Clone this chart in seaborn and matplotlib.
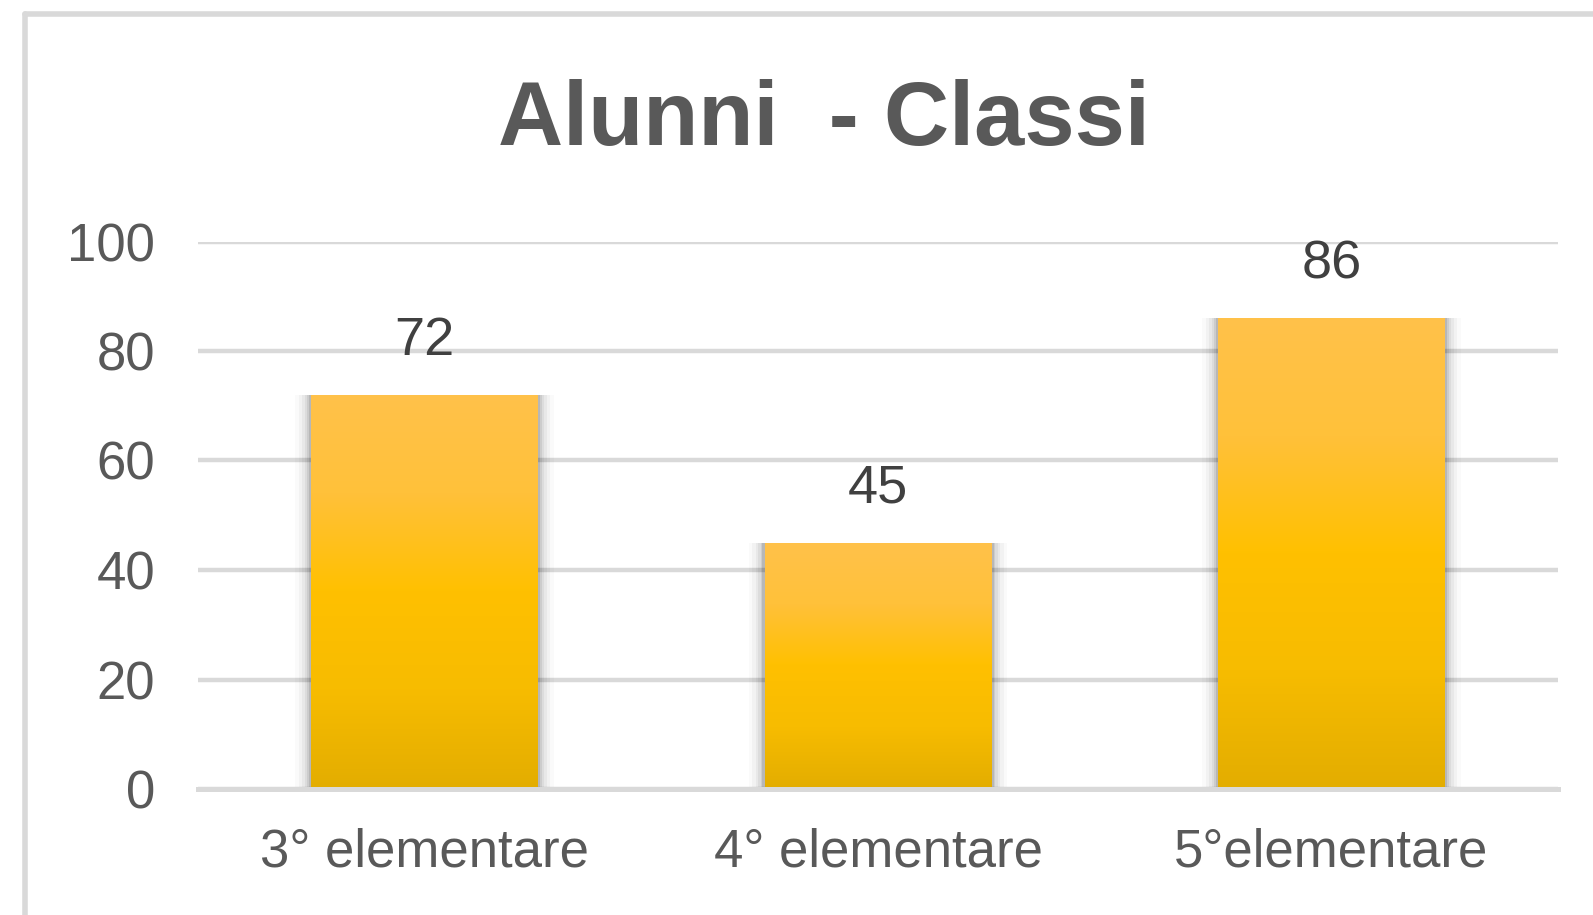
import matplotlib
matplotlib.use("Agg")
import matplotlib.pyplot as plt
import seaborn as sns
import numpy as np
import pandas as pd
from matplotlib.colors import LinearSegmentedColormap
from matplotlib.lines import Line2D
from matplotlib.patches import Rectangle

categories = ["3° elementare", "4° elementare", "5°elementare"]
values = [72, 45, 86]
yticks = [0, 20, 40, 60, 80, 100]
title = "Alunni  - Classi"

sns.set_theme(style="white")
plt.rcParams["font.family"] = ["Liberation Sans", "DejaVu Sans"]

df = pd.DataFrame({"cat": categories, "val": values})

fig = plt.figure(figsize=(15.93, 9.15), dpi=100)
ax = fig.add_axes([198 / 1593, 126 / 915, 1360 / 1593, 547.5 / 915])

sns.barplot(data=df, x="cat", y="val", ax=ax, color="#FFC000", width=0.5,
            saturation=1, zorder=3, linewidth=0)

ax.set_ylim(0, 100)
ax.set_xlim(-0.5, len(categories) - 0.5)

cmap = LinearSegmentedColormap.from_list(
    "g", ["#E3AD00", "#F7BC00", "#FFC000", "#FFC13A", "#FFC24A"])
grad = np.linspace(0, 1, 256).reshape(-1, 1)

for p in list(ax.patches):
    x0, w, h = p.get_x(), p.get_width(), p.get_height()
    # soft shadow on the sides
    for k, a in zip([0.07, 0.055, 0.04, 0.028, 0.018, 0.01],
                    [0.02, 0.03, 0.04, 0.05, 0.07, 0.10]):
        ax.add_patch(Rectangle((x0 - k * 0.5, 0), w + k, h, color="#000000",
                               alpha=a, lw=0, zorder=2.5))
    im = ax.imshow(grad, extent=[x0, x0 + w, 0, h], origin="lower", cmap=cmap,
                   aspect="auto", zorder=3.5, interpolation="bicubic")
    im.set_clip_path(p)
    ax.text(x0 + w / 2, h + 5.3, f"{int(h)}", ha="center", va="bottom",
            fontsize=39, color="#404040", zorder=5, clip_on=False)

ax.set_ylim(0, 100)
ax.set_xlim(-0.5, len(categories) - 0.5)
ax.set_yticks(yticks)
ax.yaxis.grid(True, color="#D9D9D9", linewidth=3.2, zorder=0)
ax.set_axisbelow(True)
for s in ["top", "right", "left"]:
    ax.spines[s].set_visible(False)
ax.spines["bottom"].set_color("#D9D9D9")
ax.spines["bottom"].set_linewidth(3.6)
ax.spines["bottom"].set_zorder(4)
ax.tick_params(axis="y", length=0, pad=31, labelsize=38, labelcolor="#595959")
ax.tick_params(axis="x", length=0, pad=28, labelsize=38, labelcolor="#595959")
ax.set_xlabel("")
ax.set_ylabel("")

fig.text(824 / 1593, 1 - 121 / 915, title, ha="center", va="center",
         fontsize=65, fontweight="bold", color="#595959")

# chart border (top and left)
fig.add_artist(Line2D([24.5 / 1593, 1.0], [1 - 14 / 915, 1 - 14 / 915],
                      transform=fig.transFigure, color="#D9D9D9", lw=4))
fig.add_artist(Line2D([24.5 / 1593, 24.5 / 1593], [0, 1 - 14 / 915],
                      transform=fig.transFigure, color="#D9D9D9", lw=4))

fig.savefig("out.png", dpi=100)
